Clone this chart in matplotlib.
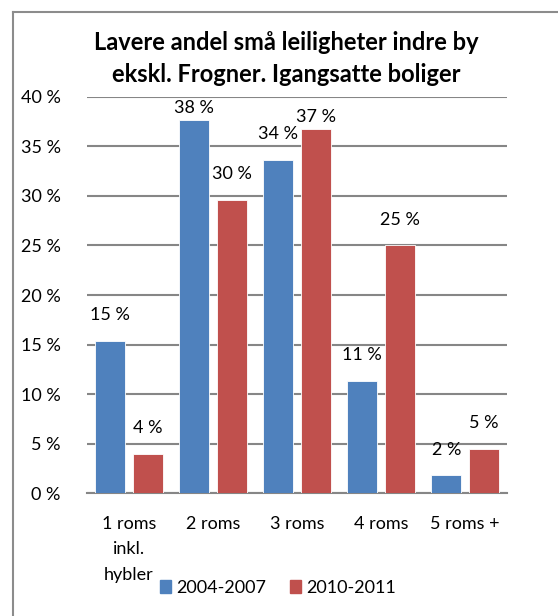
import numpy as np
import matplotlib
matplotlib.use("Agg")
import matplotlib.pyplot as plt
from matplotlib.lines import Line2D
from matplotlib.patches import Patch

plt.rcParams['font.family'] = ['Lato', 'DejaVu Sans']

# Data (percent).
categories = ['1 roms\ninkl.\nhybler', '2 roms', '3 roms', '4 roms', '5 roms +']
series_names = ['2004-2007', '2010-2011']
share_0407 = [15.4, 37.7, 33.6, 11.3, 1.8]
share_1011 = [4.0, 29.6, 36.7, 25.0, 4.45]
label_0407 = ['15 %', '38 %', '34 %', '11 %', '2 %']
label_1011 = ['4 %', '30 %', '37 %', '25 %', '5 %']
yticks = [0, 5, 10, 15, 20, 25, 30, 35, 40]

blue = '#4F81BD'
red = '#C0504D'
grid = '#868686'

fig = plt.figure(figsize=(5.58, 6.16), dpi=100)
ax = fig.add_axes([87/558, 1 - 493.3/616, 420/558, 396.6/616])

x = np.arange(len(categories))
w = 0.357
off = (w + 0.088) / 2

for vals, labels, color, sign in [(share_0407, label_0407, blue, -1),
                                  (share_1011, label_1011, red, 1)]:
    ax.bar(x + sign*off, vals, width=w, color=color, edgecolor='white',
           linewidth=0.6, zorder=3)
    for xi, v, t in zip(x, vals, labels):
        # Labels that would stick out of the plot area sit close to the bar.
        dy = 1.8 if v < 35 else 0.4
        ax.text(xi + sign*off, v + dy, t, ha='center', va='bottom',
                fontsize=13, color='black', zorder=4)

ax.set_ylim(0, 40)
ax.set_xlim(-0.5, len(categories) - 0.5)
ax.set_yticks(yticks)
ax.set_yticklabels(['%d %%' % t for t in yticks], fontsize=13)
ax.set_xticks(x)
ax.set_xticklabels(categories, fontsize=13, linespacing=1.75)
ax.tick_params(axis='both', length=0)
ax.tick_params(axis='y', pad=19)
ax.tick_params(axis='x', pad=16)
ax.yaxis.grid(True, color=grid, linewidth=1.5, zorder=0)
ax.set_axisbelow(True)
for s in ['left', 'right', 'top']:
    ax.spines[s].set_visible(False)
ax.spines['bottom'].set_color(grid)
ax.spines['bottom'].set_linewidth(1.5)

fig.text(0.513, 1 - 58.5/616, 'Lavere andel små leiligheter indre by\nekskl. Frogner. Igangsatte boliger',
         ha='center', va='center', fontsize=17, fontweight='bold', linespacing=1.5)

handles = [Patch(color=blue), Patch(color=red)]
fig.legend(handles, series_names, loc='center', bbox_to_anchor=(278/558, 1 - 588/616),
           ncol=2, frameon=False, fontsize=13, handlelength=0.6, handleheight=0.7,
           handletextpad=0.3, columnspacing=1.3)

# Chart border (left and top edges visible).
fig.add_artist(Line2D([13/558, 13/558], [0, 1 - 12/616], color='#8c8c8c', linewidth=1.5))
fig.add_artist(Line2D([13/558, 1], [1 - 12/616, 1 - 12/616], color='#8c8c8c', linewidth=1.5))

fig.savefig('out.png', dpi=100)
